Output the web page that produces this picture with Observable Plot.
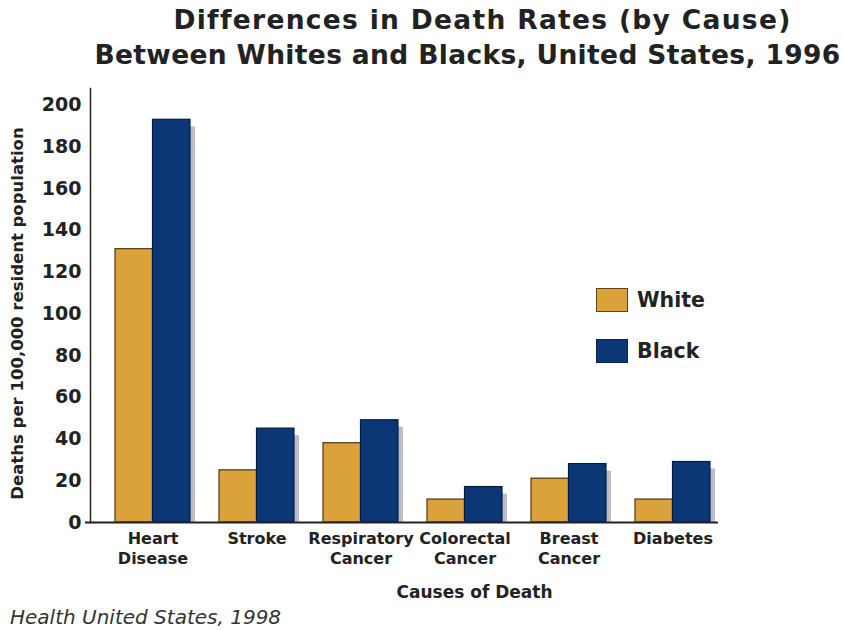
<!DOCTYPE html>
<html>
<head>
<meta charset="utf-8">
<script src="https://cdn.jsdelivr.net/npm/d3@7"></script>
<script src="https://cdn.jsdelivr.net/npm/@observablehq/plot@0.6"></script>
<style>
  html, body { margin: 0; padding: 0; background: #fff; }
  body { width: 843px; height: 630px; position: relative; overflow: hidden; font-family: "DejaVu Sans", Verdana, sans-serif; }
  .t { position: absolute; left: 0; width: 843px; text-align: center; font-weight: bold; font-size: 26.5px; line-height: 35px; color: #222; white-space: nowrap; }
  #t1 { top: 2px; padding-left: 122px; box-sizing: border-box; letter-spacing: 1.3px; }
  #t2 { top: 37px; padding-left: 92px; box-sizing: border-box; letter-spacing: 0.35px; }
  #chart { position: absolute; left: 0; top: 80px; }
  #caption { position: absolute; left: 10px; top: 605px; font-style: italic; font-size: 20px; color: #333; }
  .legend { position: absolute; left: 596px; display: flex; align-items: center; font-weight: bold; font-size: 20.5px; color: #222; }
  .sw { width: 32px; height: 24px; box-sizing: border-box; margin-right: 9px; }
</style>
</head>
<body>
<div class="t" id="t1">Differences in Death Rates (by Cause)</div>
<div class="t" id="t2">Between Whites and Blacks, United States, 1996</div>
<div id="chart"></div>
<div class="legend" style="top:288px"><div class="sw" style="background:#DBA23B;border:1.5px solid #5a4418"></div>White</div>
<div class="legend" style="top:339px"><div class="sw" style="background:#0B3776;border:1px solid #0a2450"></div>Black</div>
<div id="caption">Health United States, 1998</div>
<script>
const causes = ["Heart\nDisease", "Stroke", "Respiratory\nCancer", "Colorectal\nCancer", "Breast\nCancer", "Diabetes"];
const whiteRates = [131, 25, 38, 11, 21, 11];
const blackRates = [193, 45, 49, 17, 28, 29];
const yTicks = [0, 20, 40, 60, 80, 100, 120, 140, 160, 180, 200];
const yLabel = "Deaths per 100,000 resident population";
const xLabel = "Causes of Death";

const gold = "#DBA23B";
const navy = "#0B3776";

const data = causes.map((c, i) => ({cause: c, white: whiteRates[i], black: blackRates[i]}));

const chart = Plot.plot({
  width: 843,
  height: 525,
  marginLeft: 90,
  marginRight: 125,
  marginTop: 8,
  marginBottom: 83,
  x: {domain: causes, paddingInner: 0.283, paddingOuter: 0.143, align: 0.75},
  y: {domain: [0, 208]},
  style: {fontFamily: "DejaVu Sans", fontWeight: "bold", color: "#222", background: "transparent"},
  marks: [
    Plot.barY(data, {x: "cause", y: "black", dx: 5, insetLeft: 37.5, insetTop: 7, fill: "#babdc7"}),
    Plot.barY(data, {x: "cause", y: "white", insetRight: 37.5, fill: gold, stroke: "#4a3812", strokeWidth: 1.2}),
    Plot.barY(data, {x: "cause", y: "black", insetLeft: 37.5, fill: navy, stroke: "#081c3c", strokeWidth: 1.2}),
    Plot.ruleY([0], {insetLeft: -5, stroke: "#222", strokeWidth: 2}),
    Plot.frame({anchor: "left", stroke: "#222", strokeWidth: 1.5}),
    Plot.axisY({ticks: yTicks, tickSize: 0, tickPadding: 9, fontSize: 19, label: null}),
    Plot.axisX({tickSize: 0, tickPadding: 7, fontSize: 16, lineHeight: 1.25, label: null}),
    Plot.text([yLabel], {frameAnchor: "left", text: d => d, rotate: -90, dx: -73, dy: 8, textAnchor: "middle", fontSize: 16.5, fill: "#222"}),
    Plot.text([xLabel], {frameAnchor: "bottom", text: d => d, dx: 70, dy: 70, lineAnchor: "middle", fontSize: 17, fill: "#222"})
  ]
});
document.getElementById("chart").appendChild(chart);
</script>
</body>
</html>
